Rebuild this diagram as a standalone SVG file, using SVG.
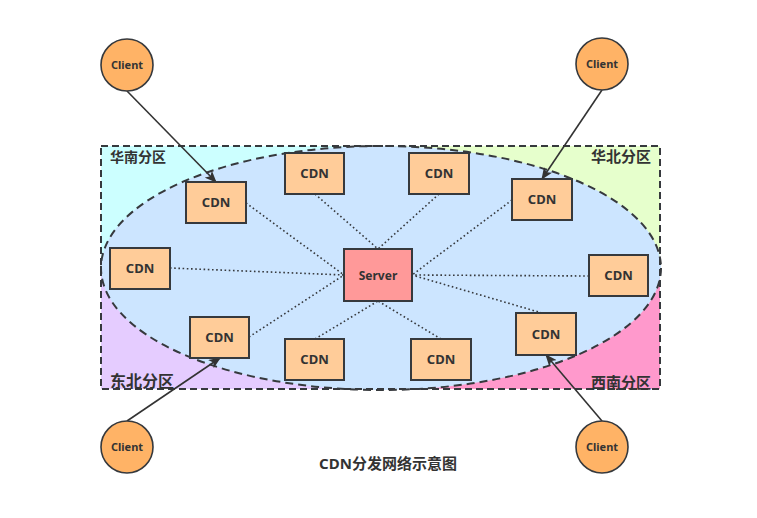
<svg xmlns="http://www.w3.org/2000/svg" width="757" height="518" viewBox="0 0 757 518">
<style>
text{font-family:"Noto Sans","Noto Sans CJK SC",sans-serif;font-weight:bold;fill:#333;}
.cdn rect{fill:#ffcc99;stroke:#36393d;stroke-width:2;}
.cdn text{font-size:13px;text-anchor:middle;}
.client circle{fill:#ffb366;stroke:#36393d;stroke-width:1.6;}
.client text{font-size:11px;text-anchor:middle;}
.dot{fill:none;stroke:#36393d;stroke-width:1.6;stroke-dasharray:1.6 2.6;}
.arr{fill:none;stroke:#333;stroke-width:1.6;marker-end:url(#ah);}
.zone{font-size:14px;}
</style>
<defs>
<marker id="ah" markerUnits="userSpaceOnUse" markerWidth="12" markerHeight="10" viewBox="0 0 12 10" refX="11" refY="5" orient="auto">
<path d="M0,0 L12,5 L0,10 L3,5 Z" fill="#333"/>
</marker>
</defs>
<rect width="757" height="518" fill="#fff"/>
<g id="zones">
<rect x="101" y="146" width="280" height="122" fill="#ccffff"/>
<rect x="381" y="146" width="279" height="122" fill="#e6ffcc"/>
<rect x="101" y="268" width="280" height="121" fill="#e5ccff"/>
<rect x="381" y="268" width="279" height="121" fill="#ff99cc"/>
<ellipse cx="381" cy="268" rx="280" ry="122" fill="#cce5ff" stroke="#36393d" stroke-width="2" stroke-dasharray="8 5"/>
<rect x="101" y="146" width="559" height="243" fill="none" stroke="#36393d" stroke-width="2" stroke-dasharray="7 4"/>
<text class="zone" x="110" y="162" style="font-size:14px">华南分区</text>
<text class="zone" x="651" y="162" text-anchor="end" style="font-size:15px">华北分区</text>
<text class="zone" x="110" y="387" style="font-size:16px">东北分区</text>
<text class="zone" x="651" y="388" text-anchor="end" style="font-size:15px">西南分区</text>
</g>
<g id="connectors">
<path class="dot" d="M246,203 L344,275"/>
<path class="dot" d="M315,194 L378,249"/>
<path class="dot" d="M439,194 L378,249"/>
<path class="dot" d="M512,200 L412,275"/>
<path class="dot" d="M170,268 L344,275"/>
<path class="dot" d="M589,276 L412,275"/>
<path class="dot" d="M249,337 L344,275"/>
<path class="dot" d="M315,339 L378,301"/>
<path class="dot" d="M441,339 L378,301"/>
<path class="dot" d="M542,313 L412,275"/>
<path class="arr" d="M127,91 L216,182"/>
<path class="arr" d="M602,90 L542,179"/>
<path class="arr" d="M127,421 L220,358"/>
<path class="arr" d="M602,421 L546,355"/>
</g>
<g id="server">
<rect x="344" y="249" width="68" height="52" fill="#ff9999" stroke="#36393d" stroke-width="2"/>
<text x="378" y="279.5" font-size="12" text-anchor="middle">Server</text>
</g>
<g id="cdn-a" class="cdn"><rect x="186" y="182" width="60" height="41"/><text x="216" y="207">CDN</text></g>
<g id="cdn-b" class="cdn"><rect x="285" y="153" width="59" height="41"/><text x="314.5" y="178">CDN</text></g>
<g id="cdn-c" class="cdn"><rect x="409" y="153" width="60" height="41"/><text x="439" y="178">CDN</text></g>
<g id="cdn-d" class="cdn"><rect x="512" y="179" width="60" height="41"/><text x="542" y="204">CDN</text></g>
<g id="cdn-e" class="cdn"><rect x="110" y="248" width="60" height="41"/><text x="140" y="273">CDN</text></g>
<g id="cdn-f" class="cdn"><rect x="589" y="255" width="59" height="41"/><text x="618.5" y="280">CDN</text></g>
<g id="cdn-g" class="cdn"><rect x="190" y="317" width="59" height="41"/><text x="219.5" y="342">CDN</text></g>
<g id="cdn-h" class="cdn"><rect x="285" y="339" width="59" height="41"/><text x="314.5" y="364">CDN</text></g>
<g id="cdn-i" class="cdn"><rect x="411" y="339" width="60" height="41"/><text x="441" y="364">CDN</text></g>
<g id="cdn-j" class="cdn"><rect x="516" y="313" width="60" height="42"/><text x="546" y="338.5">CDN</text></g>
<g id="client-tl" class="client"><circle cx="127" cy="65" r="26"/><text x="127" y="69">Client</text></g>
<g id="client-tr" class="client"><circle cx="602" cy="64" r="26"/><text x="602" y="68">Client</text></g>
<g id="client-bl" class="client"><circle cx="127" cy="447" r="26"/><text x="127" y="451">Client</text></g>
<g id="client-br" class="client"><circle cx="602" cy="447" r="26"/><text x="602" y="451">Client</text></g>
<g id="title"><text x="388" y="469" font-size="15" text-anchor="middle">CDN分发网络示意图</text></g>
</svg>
